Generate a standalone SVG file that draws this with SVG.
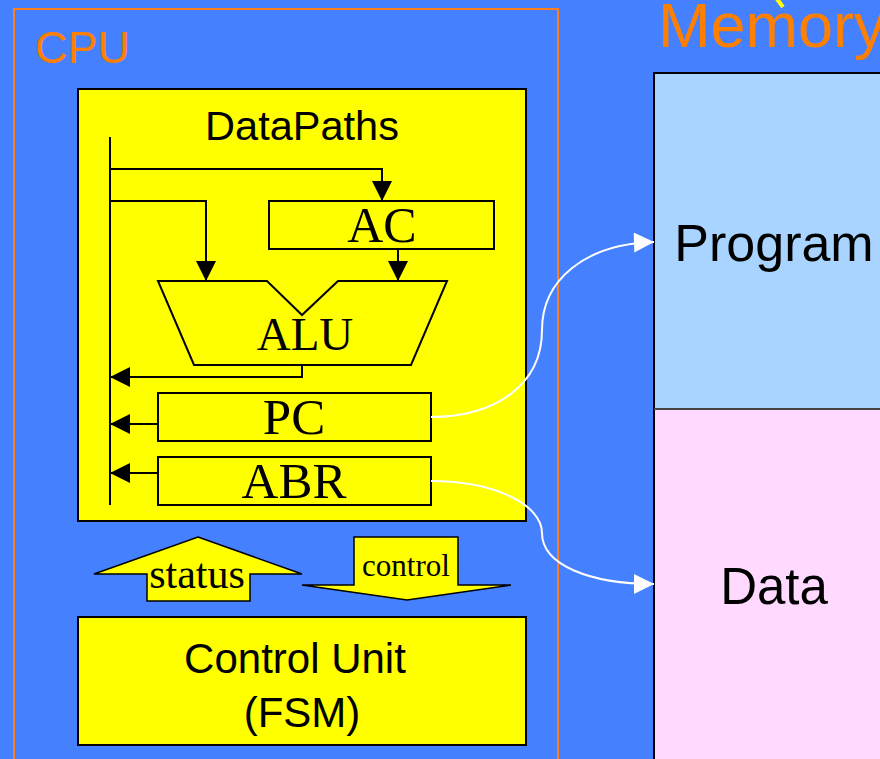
<svg xmlns="http://www.w3.org/2000/svg" width="880" height="759" viewBox="0 0 880 759">
<defs>
<style>
.sans{font-family:"Liberation Sans",Arial,sans-serif}
.serif{font-family:"Liberation Serif","Times New Roman",serif}
.yb{fill:#FFFF00;stroke:#000;stroke-width:2}
.ln{fill:none;stroke:#000;stroke-width:2}
.wl{fill:none;stroke:#fff;stroke-width:2}
</style>
<marker id="bh" viewBox="0 0 20 20" refX="20" refY="10" markerWidth="20" markerHeight="20" markerUnits="userSpaceOnUse" orient="auto">
<path d="M0,0 L20,10 L0,20 Z" fill="#000"/>
</marker>
<marker id="wh" viewBox="0 0 20 20" refX="20" refY="10" markerWidth="21" markerHeight="20" markerUnits="userSpaceOnUse" orient="auto">
<path d="M0,0 L20,10 L0,20 Z" fill="#fff"/>
</marker>
</defs>
<rect x="0" y="0" width="880" height="759" fill="#4580FF"/>
<path d="M777,-1 L783,7" stroke="#FFFF00" stroke-width="4"/>

<g id="cpu">
<rect x="14" y="9" width="544" height="760" fill="none" stroke="#FF7F1E" stroke-width="2"/>
<text x="35" y="63" class="sans" font-size="45" fill="#FF7F00">CPU</text>
</g>

<g id="memory">
<text x="658" y="47" class="sans" font-size="63" fill="#FF7F00">Memory</text>
<rect x="654" y="73" width="240" height="336" fill="#A8D4FF" stroke="#000" stroke-width="2"/>
<rect x="654" y="409" width="240" height="360" fill="#FFD9FF" stroke="#000" stroke-width="2"/>
<line x1="654" y1="409" x2="880" y2="409" stroke="#444" stroke-width="2"/>
</g>
<g id="program"><text x="774" y="261" class="sans" font-size="52" text-anchor="middle">Program</text></g>
<g id="data"><text x="774" y="604" class="sans" font-size="51" text-anchor="middle">Data</text></g>

<g id="datapaths">
<rect x="78" y="89" width="448" height="432" class="yb"/>
<text x="302" y="140" class="sans" font-size="41.5" text-anchor="middle">DataPaths</text>
</g>

<g id="ac">
<rect x="269" y="201" width="225" height="48" class="yb"/>
<text x="382" y="242" class="serif" font-size="50" text-anchor="middle">AC</text>
</g>

<g id="alu">
<path d="M158,281 L267,281 L302,315 L338,281 L447,281 L411,365 L194,365 Z" class="yb"/>
<text x="305" y="350" class="serif" font-size="47" text-anchor="middle">ALU</text>
</g>

<g id="pc">
<rect x="158" y="393" width="273" height="48" class="yb"/>
<text x="294" y="434" class="serif" font-size="51" text-anchor="middle">PC</text>
</g>

<g id="abr">
<rect x="158" y="457" width="273" height="48" class="yb"/>
<text x="294" y="498" class="serif" font-size="51" text-anchor="middle">ABR</text>
</g>

<g id="status">
<path d="M198,537 L302,574 L250,574 L250,601 L147,601 L147,574 L94,574 Z" fill="#FFFF00" stroke="#000" stroke-width="1.5"/>
<text x="197" y="588" class="serif" font-size="42" text-anchor="middle">status</text>
</g>

<g id="control">
<path d="M354,537 L458,537 L458,585 L511,585 L407,600 L302,585 L354,585 Z" fill="#FFFF00" stroke="#000" stroke-width="1.5"/>
<text x="406" y="576" class="serif" font-size="31" text-anchor="middle">control</text>
</g>

<g id="control-unit">
<rect x="78" y="617" width="448" height="128" class="yb"/>
<text x="295" y="673" class="sans" font-size="42" text-anchor="middle">Control Unit</text>
<text x="302" y="727" class="sans" font-size="42" text-anchor="middle">(FSM)</text>
</g>

<g id="connectors">
<line x1="110" y1="137" x2="110" y2="505" class="ln"/>
<path d="M110,169 L382,169 L382,201" class="ln" marker-end="url(#bh)"/>
<path d="M110,201 L206,201 L206,281" class="ln" marker-end="url(#bh)"/>
<path d="M398,249 L398,281" class="ln" marker-end="url(#bh)"/>
<path d="M302,365 L302,377 L110,377" class="ln" marker-end="url(#bh)"/>
<path d="M158,424 L110,424" class="ln" marker-end="url(#bh)"/>
<path d="M158,473 L110,473" class="ln" marker-end="url(#bh)"/>
<path d="M431,417 C495,417 542,385 542,330 C542,280 585,244 654,242" class="wl" marker-end="url(#wh)"/>
<path d="M431,481 C495,481 542,505 542,533 C542,565 590,584 654,584" class="wl" marker-end="url(#wh)"/>
</g>
</svg>
